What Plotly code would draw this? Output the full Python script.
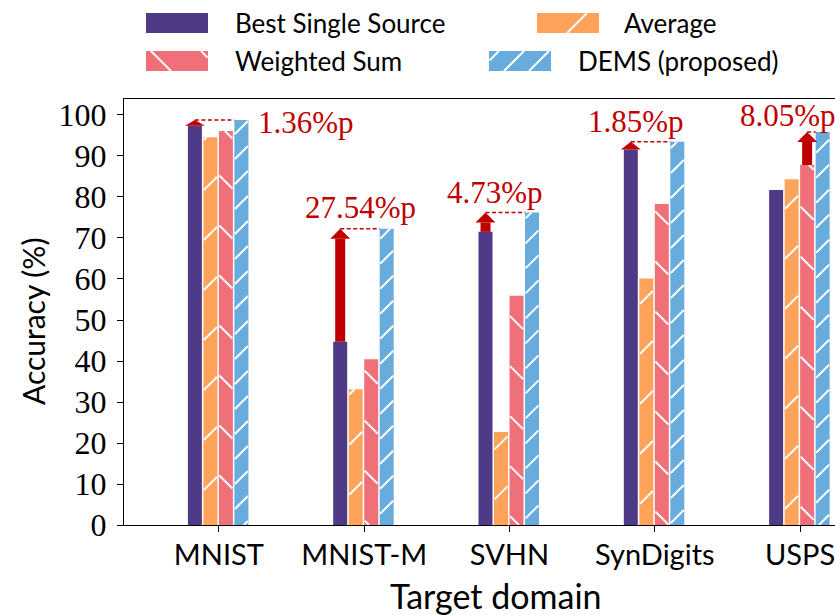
import math
import plotly.graph_objects as go

# ---------------- data ----------------
categories = ["MNIST", "MNIST-M", "SVHN", "SynDigits", "USPS"]
series_names = ["Best Single Source", "Average", "Weighted Sum", "DEMS (proposed)"]
best_single = [97.4, 44.7, 71.5, 91.6, 81.7]
average = [94.6, 33.1, 22.7, 60.1, 84.3]
weighted_sum = [96.1, 40.4, 55.9, 78.3, 87.8]
dems = [98.76, 72.24, 76.23, 93.45, 95.85]
gain_labels = ["1.36%p", "27.54%p", "4.73%p", "1.85%p", "8.05%p"]
y_ticks = [0, 10, 20, 30, 40, 50, 60, 70, 80, 90, 100]

# ---------------- style / layout ----------------
W, H = 835, 615
colors = ["#4E3A86", "#FFA35A", "#F0707A", "#68ACDE"]
hatch_kind = [None, "/", "\\", "/"]
hatch_space = [0, 50, 50, 25]      # vertical spacing of hatch lines, px
HATCH_W = 2.0
RED = "#C00000"
SANS = "Lato"
SERIF = "Liberation Serif"

x_left_px, y_top_px, y_bot_px = 124, 99, 525
x_range = [-0.653, 4.24]
y_range = [0, 103.9]
px_x = (W - x_left_px) / (x_range[1] - x_range[0])
px_y = (y_bot_px - y_top_px) / (y_range[1] - y_range[0])

slot = 15.5 / px_x
bar_w = 14 / px_x
first_off = -31 / px_x

xs = list(range(len(categories)))
all_series = [best_single, average, weighted_sum, dems]


def hatch_px(XL, XR, YB, YT, sp, kind):
    """45-degree hatch segments inside a rectangle, in upward pixel space."""
    segs = []
    if kind is None or YT <= YB:
        return segs
    if kind == "/":
        lo, hi = YB - XR, YT - XL
    else:
        lo, hi = YB + XL, YT + XR
    n0, n1 = math.ceil(lo / sp), math.floor(hi / sp)
    for n in range(n0, n1 + 1):
        c = n * sp
        if kind == "/":
            a, b = max(XL, YB - c), min(XR, YT - c)
            if b - a > 0.3:
                segs.append(((a, a + c), (b, b + c)))
        else:
            a, b = max(XL, c - YT), min(XR, c - YB)
            if b - a > 0.3:
                segs.append(((a, c - a), (b, c - b)))
    return segs


fig = go.Figure()
for k, (name, vals) in enumerate(zip(series_names, all_series)):
    off = first_off + k * slot
    fig.add_trace(go.Bar(
        x=xs, y=vals, name=name, width=bar_w, offset=off,
        marker=dict(color=colors[k], line=dict(width=0)),
        showlegend=False, xaxis="x", yaxis="y",
    ))
for k, vals in enumerate(all_series):
    if hatch_kind[k] is None:
        continue
    off = first_off + k * slot
    hx, hy = [], []
    for i, v in zip(xs, vals):
        XL = (i + off) * px_x + 0.5
        XR = (i + off + bar_w) * px_x - 0.5
        for (p0, p1) in hatch_px(XL, XR, 0, v * px_y, hatch_space[k], hatch_kind[k]):
            hx += [p0[0] / px_x, p1[0] / px_x, None]
            hy += [p0[1] / px_y, p1[1] / px_y, None]
    fig.add_trace(go.Scatter(x=hx, y=hy, mode="lines", line=dict(color="white", width=HATCH_W),
                             hoverinfo="skip", showlegend=False, xaxis="x", yaxis="y"))

# ---------------- gain arrows ----------------
shapes = []
annotations = []
shaft_hw = 5 / px_x
head_hw = 10 / px_x
head_len_max = 10 / px_y
label_dx = [37, -4, -15, -19, -12]
label_dy = [-2, 21, 19.5, 20, 17]
label_anchor = ["left", "center", "center", "center", "center"]
baselines = [best_single, average, weighted_sum]
for i in xs:
    base_vals = [s[i] for s in baselines]
    kb = max(range(3), key=lambda k: base_vals[k])
    b = base_vals[kb]
    top = dems[i]
    xc = i + first_off + kb * slot + bar_w / 2
    hl = min(head_len_max, top - b)
    yb = top - hl
    if yb > b:
        shapes.append(dict(type="rect", xref="x", yref="y", x0=xc - shaft_hw, x1=xc + shaft_hw,
                           y0=b, y1=yb, fillcolor=RED, line=dict(width=0), layer="above"))
    shapes.append(dict(type="path", xref="x", yref="y",
                       path=f"M{xc - head_hw},{yb} L{xc + head_hw},{yb} L{xc},{top} Z",
                       fillcolor=RED, line=dict(width=0), layer="above"))
    x_dems_left = i + first_off + 3 * slot
    shapes.append(dict(type="line", xref="x", yref="y", x0=xc, x1=x_dems_left, y0=top, y1=top,
                       line=dict(color=RED, width=1.5, dash="4px,2.5px"), layer="above"))
    annotations.append(dict(x=i, y=top, xref="x", yref="y", text=gain_labels[i], showarrow=False,
                            xanchor=label_anchor[i], yanchor="middle", xshift=label_dx[i],
                            yshift=label_dy[i], font=dict(family=SERIF, size=31, color=RED)))

# ---------------- custom legend (swatches on an auxiliary pixel axis) ----------------
leg_left = [146, 537, 146, 489]
leg_top = [13, 13, 51, 51]
leg_text_x = [233, 622, 233, 576]
SW_W, SW_H = 62, 20
lx, ly = [], []
for k in range(4):
    fig.add_trace(go.Bar(
        x=[leg_left[k]], y=[SW_H], base=[leg_top[k]], width=[SW_W], offset=0,
        marker=dict(color=colors[k], line=dict(width=0)),
        showlegend=False, xaxis="x2", yaxis="y2", hoverinfo="skip",
    ))
    if hatch_kind[k] is not None:
        for (p0, p1) in hatch_px(leg_left[k] + 0.5, leg_left[k] + SW_W - 0.5,
                                 -(leg_top[k] + SW_H), -leg_top[k], hatch_space[k], hatch_kind[k]):
            lx += [p0[0], p1[0], None]
            ly += [-p0[1], -p1[1], None]
    annotations.append(dict(x=leg_text_x[k] / W, y=1 - (leg_top[k] + 10) / H, xref="paper", yref="paper",
                            text=series_names[k], showarrow=False, xanchor="left", yanchor="middle",
                            font=dict(family=SANS, size=26, color="black")))
fig.add_trace(go.Scatter(x=lx, y=ly, mode="lines", line=dict(color="white", width=HATCH_W),
                         hoverinfo="skip", showlegend=False, xaxis="x2", yaxis="y2"))

# axis titles
annotations.append(dict(x=496 / W, y=1 - 595 / H, xref="paper", yref="paper", text="Target domain",
                        showarrow=False, xanchor="center", yanchor="middle",
                        font=dict(family=SANS, size=34, color="black")))
annotations.append(dict(x=33 / W, y=1 - 322 / H, xref="paper", yref="paper", text="Accuracy (%)",
                        showarrow=False, xanchor="center", yanchor="middle", textangle=-90,
                        font=dict(family=SANS, size=30, color="black")))

fig.update_layout(
    width=W, height=H, template="none",
    margin=dict(l=0, r=0, t=0, b=0, pad=0),
    paper_bgcolor="white", plot_bgcolor="rgba(0,0,0,0)",
    barmode="overlay", showlegend=False,
    xaxis=dict(domain=[x_left_px / W, 1], range=x_range, tickvals=xs, ticktext=categories,
               tickfont=dict(family=SANS, size=29, color="black"), ticks="outside", ticklen=6,
               tickwidth=1.2, tickcolor="black", showline=True, linecolor="black", linewidth=1.3,
               mirror=True, showgrid=False, zeroline=False, automargin=False, anchor="y",
               ticklabeloverflow="allow", ticklabelstandoff=-2),
    yaxis=dict(domain=[1 - y_bot_px / H, 1 - y_top_px / H], range=y_range, tickvals=y_ticks,
               tickfont=dict(family=SERIF, size=32, color="black"), ticks="outside", ticklen=6,
               tickwidth=1.2, tickcolor="black", showline=True, linecolor="black", linewidth=1.3,
               showgrid=False, zeroline=False, automargin=False, anchor="x", ticklabelstandoff=4),
    xaxis2=dict(domain=[0, 1], range=[0, W], visible=False, anchor="y2", fixedrange=True),
    yaxis2=dict(domain=[0, 1], range=[H, 0], visible=False, anchor="x2", fixedrange=True),
    shapes=shapes, annotations=annotations,
)

fig.write_html("out.html", config={"displayModeBar": False},
               post_script="document.body.style.margin='0';document.body.style.overflow='hidden';")
